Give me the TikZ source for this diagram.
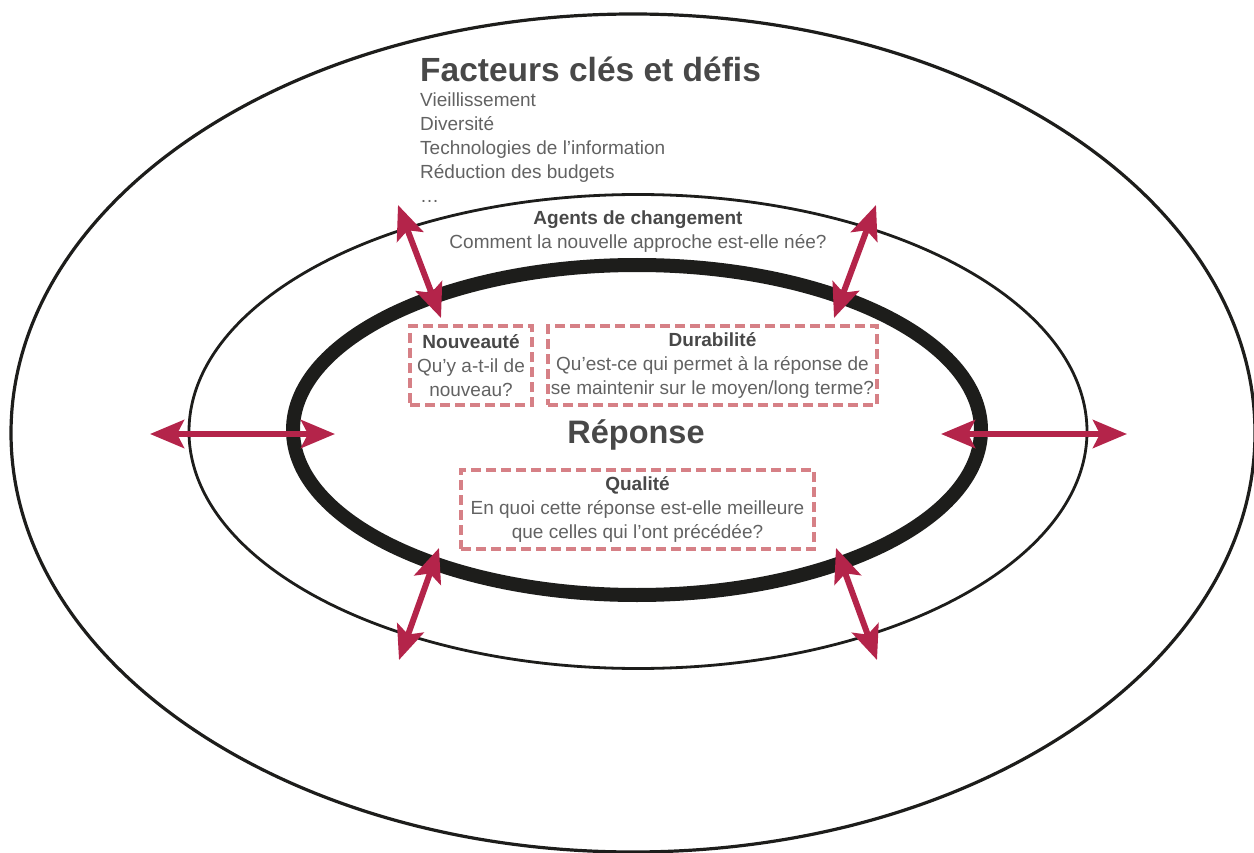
\documentclass[tikz,border=0pt]{standalone}
\usepackage{fontspec}
\setmainfont{Liberation Sans}
\usepackage{tikz}
\usetikzlibrary{arrows.meta,positioning}
\definecolor{ringblack}{RGB}{29,29,27}
\definecolor{arrowred}{RGB}{180,36,74}
\definecolor{dashpink}{RGB}{214,128,134}
\definecolor{headgrey}{RGB}{72,72,72}
\definecolor{textgrey}{RGB}{98,98,98}
\newcommand{\boxhead}[1]{\textbf{\textcolor{headgrey}{#1}}}
\tikzset{
	ring/.style={draw=ringblack, line width=#1},
	push/.style={draw=arrowred, line width=6pt,
			{Stealth[length=34pt,width=28pt,inset=7pt]}-{Stealth[length=34pt,width=28pt,inset=7pt]}},
	question/.style={draw=dashpink, dash pattern=on 10pt off 5pt, line width=3.4pt,
			align=center, inner sep=0pt, text=textgrey, font=\fontsize{19}{24}\selectfont},
	plain/.style={inner sep=0pt, text=textgrey, font=\fontsize{19}{24}\selectfont}
}

\begin{document}
\begin{tikzpicture}[x=1pt, y=-1pt]
	\useasboundingbox (0,0) rectangle (1254,853);
	\draw[ring=3.2pt] (633,433) ellipse [x radius=622, y radius=419];
	\draw[ring=2.8pt] (638,431.5) ellipse [x radius=449, y radius=237];
	\draw[ring=14pt] (637,430) ellipse [x radius=344, y radius=165];

	\node[plain, anchor=base west, text=headgrey, font=\bfseries\fontsize{33.5}{40}\selectfont] (facteurs) at (420,82) {Facteurs clés et défis};
	\node[plain, anchor=north west, align=left] (defis) at (420,92.5) {Vieillissement\\Diversité\\Technologies de l’information\\Réduction des budgets\\…};
	\node[plain, anchor=north, align=center] (agents) at (638,211) {\boxhead{Agents de changement}\\Comment la nouvelle approche est-elle née?};

	\node[question, minimum width=122pt, minimum height=79pt] (nouveaute) at (471,365.5) {\boxhead{Nouveauté}\\Qu’y a-t-il de\\nouveau?};
	\node[question, minimum width=329pt, minimum height=79pt] (durabilite) at (712.5,365.5) {\boxhead{Durabilité}\\Qu’est-ce qui permet à la réponse de\\se maintenir sur le moyen/long terme?};
	\node[plain, anchor=base, text=headgrey, font=\bfseries\fontsize{32.5}{38}\selectfont] (reponse) at (636,443) {Réponse};
	\node[question, minimum width=353pt, minimum height=79pt] (qualite) at (637.5,509.5) {\boxhead{Qualité}\\En quoi cette réponse est-elle meilleure\\que celles qui l’ont précédée?};

	\coordinate (w out) at (150,434);
	\coordinate (w in) at (335,434);
	\coordinate (e in) at (941,434);
	\coordinate (e out) at (1127,434);
	\coordinate (nw out) at (398,205);
	\coordinate (nw in) at (441,318);
	\coordinate (ne out) at (876,205);
	\coordinate (ne in) at (834,318);
	\coordinate (sw in) at (439,548);
	\coordinate (sw out) at (399,660);
	\coordinate (se in) at (836,548);
	\coordinate (se out) at (877,660);
	\foreach \side in {w,e,nw,ne,sw,se}
		\draw[push] (\side\space out) -- (\side\space in);
\end{tikzpicture}
\end{document}
